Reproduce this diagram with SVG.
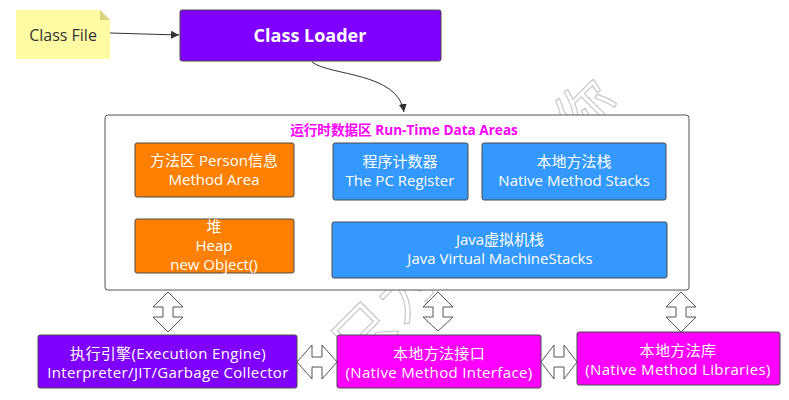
<svg xmlns="http://www.w3.org/2000/svg" width="789" height="400" viewBox="0 0 789 400">
  <style>
    .t { font-family: "Open Sans", "Noto Sans CJK SC", sans-serif; font-size: 15px; fill: #ffffff; text-anchor: middle; }
    .lg { letter-spacing: 0.35px; }
    .box { stroke: #4a4a4a; stroke-width: 1; }
    .purple { fill: #7f00ff; }
    .orange { fill: #ff8000; }
    .blue { fill: #3399ff; }
    .magenta { fill: #ff00ff; }
    .dbl { fill: #ffffff; stroke: #555555; stroke-width: 1; stroke-linejoin: miter; }
    .wire { fill: none; stroke: #333333; stroke-width: 1; }
  </style>
  <defs>
    <marker id="arrow" viewBox="0 0 10 10" refX="10" refY="5" markerWidth="8" markerHeight="8" orient="auto" markerUnits="userSpaceOnUse">
      <path d="M0,0 L10,5 L0,10 z" fill="#333333"/>
    </marker>
  </defs>
  <rect width="789" height="400" fill="#ffffff"/>

  <!-- watermark -->
  <g id="watermark" transform="translate(357,370) rotate(-45)">
    <text x="0" y="0" font-family="Noto Sans CJK SC, sans-serif" font-size="60" fill="none" stroke="#c8c8c8" stroke-width="1.2" letter-spacing="3">只为更好的你</text>
  </g>

  <!-- source note -->
  <g id="class-file">
    <path d="M16,10 H100 L110,20 V59 H16 Z" fill="#fffba3"/>
    <path d="M100,10 L110,20 H100 Z" fill="#d9d27c"/>
    <text class="t" x="63" y="41" style="fill:#333333;font-size:16px">Class File</text>
  </g>

  <g id="class-loader">
    <rect class="box purple" x="180" y="10" width="261" height="51" rx="2"/>
    <text class="t" x="310" y="42" style="font-size:18px;font-weight:bold">Class Loader</text>
  </g>

  <g id="runtime-data-areas">
    <rect x="105" y="115" width="584" height="175" rx="3" fill="#ffffff" stroke="#555555" stroke-width="1"/>
    <text class="t" x="404" y="135" style="fill:#ff00ff;font-weight:bold;font-size:13.6px">运行时数据区 Run-Time Data Areas</text>
  </g>

  <g id="method-area">
    <rect class="box orange" x="135" y="143" width="159" height="54" rx="2"/>
    <text class="t" x="214" y="166">方法区  Person信息</text>
    <text class="t" x="214" y="185">Method Area</text>
  </g>

  <g id="pc-register">
    <rect class="box blue" x="333" y="143" width="135" height="57" rx="2"/>
    <text class="t" x="400" y="167">程序计数器</text>
    <text class="t" x="400" y="186">The PC Register</text>
  </g>

  <g id="native-method-stacks">
    <rect class="box blue" x="482" y="143" width="184" height="57" rx="2"/>
    <text class="t" x="574" y="167">本地方法栈</text>
    <text class="t" x="574" y="186">Native Method Stacks</text>
  </g>

  <g id="heap">
    <rect class="box orange" x="135" y="219" width="159" height="54" rx="2"/>
    <text class="t" x="214" y="232">堆</text>
    <text class="t" x="214" y="251">Heap</text>
    <text class="t" x="214" y="270">new Object()</text>
  </g>

  <g id="jvm-stacks">
    <rect class="box blue" x="332" y="222" width="335" height="56" rx="2"/>
    <text class="t" x="500" y="245">Java虚拟机栈</text>
    <text class="t" x="500" y="264">Java Virtual MachineStacks</text>
  </g>

  <g id="execution-engine">
    <rect class="box purple" x="38" y="335" width="259" height="53" rx="2"/>
    <text class="t lg" x="168" y="359">执行引擎(Execution Engine)</text>
    <text class="t lg" x="168" y="378">Interpreter/JIT/Garbage Collector</text>
  </g>

  <g id="native-method-interface">
    <rect class="box magenta" x="337" y="335" width="204" height="53" rx="2"/>
    <text class="t lg" x="439" y="359">本地方法接口</text>
    <text class="t lg" x="439" y="378">(Native Method Interface)</text>
  </g>

  <g id="native-method-libraries">
    <rect class="box magenta" x="577" y="332" width="203" height="53" rx="2"/>
    <text class="t lg" x="678" y="356">本地方法库</text>
    <text class="t lg" x="678" y="375">(Native Method Libraries)</text>
  </g>

  <g id="connectors">
    <path class="wire" d="M110,33 L179,35" marker-end="url(#arrow)"/>
    <path class="wire" d="M312,62 C330,76 398,72 404,112" marker-end="url(#arrow)"/>
    <!-- vertical two-way arrows -->
    <path class="dbl" d="M168,292 L183,307 L173,307 L173,317 L183,317 L168,332 L153,317 L163,317 L163,307 L153,307 Z"/>
    <path class="dbl" d="M438,292 L453,307 L443,307 L443,317 L453,317 L438,331 L423,317 L433,317 L433,307 L423,307 Z"/>
    <path class="dbl" d="M681,292 L696,307 L686,307 L686,317 L696,317 L681,332 L666,317 L676,317 L676,307 L666,307 Z"/>
    <!-- horizontal two-way arrows -->
    <path class="dbl" d="M297,362 L312,345 L312,357 L322,357 L322,345 L337,362 L322,379 L322,367 L312,367 L312,379 Z"/>
    <path class="dbl" d="M541,362 L554,345 L554,357 L564,357 L564,345 L577,362 L564,379 L564,367 L554,367 L554,379 Z"/>
  </g>
</svg>
